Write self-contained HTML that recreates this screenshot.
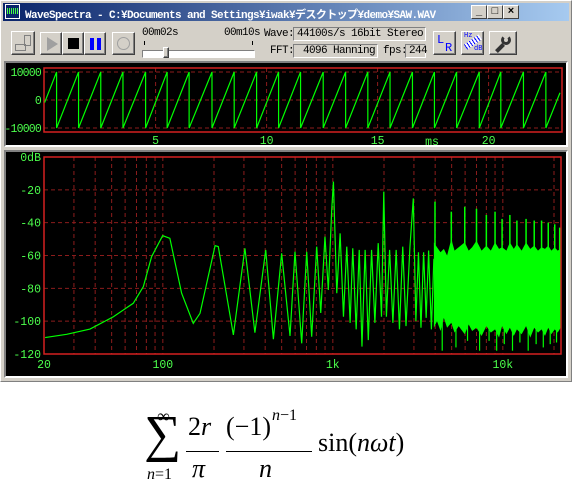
<!DOCTYPE html>
<html><head><meta charset="utf-8"><style>
*{margin:0;padding:0;box-sizing:border-box}
body{width:572px;height:495px;background:#fff;position:relative;overflow:hidden;font-family:"Liberation Mono","Noto Sans CJK JP",monospace}
.abs{position:absolute}
.win{left:0;top:0;width:572px;height:382px;background:#d4d0c8;border:1px solid #808080;border-top-color:#fff;border-left-color:#fff}
.title{left:3px;top:3px;width:566px;height:18px;background:linear-gradient(90deg,#0a246a,#a6caf0)}
.ttext{left:22px;top:3px;color:#fff;font-weight:bold;font-size:11px;white-space:nowrap;letter-spacing:-0.6px}
.cbtn{top:5px;width:16px;height:14px;background:#d4d0c8;border:1px solid;border-color:#fff #404040 #404040 #fff;font-size:11px;line-height:11px;text-align:center;color:#000;font-family:"Liberation Sans",sans-serif;font-weight:bold}
.btn{background:#d4d0c8;border:1px solid;border-color:#fff #404040 #404040 #fff;box-shadow:inset -1px -1px 0 #808080}
.sunk{background:#d4d0c8;border:1px solid;border-color:#808080 #fff #fff #808080;font-size:11px;line-height:12px;padding-left:3px;white-space:nowrap;letter-spacing:-0.6px}
.lbl{font-size:11px;white-space:nowrap;letter-spacing:-0.6px}
.panel{background:#000;border:2px solid;border-color:#808080 #fff #fff #808080}
.tx{font-family:"Liberation Serif",serif;position:absolute;color:#000;white-space:nowrap}
</style></head><body>
<div class="abs win"></div>
<div class="abs title">
 <div class="abs" style="left:2px;top:1px;width:15px;height:15px;background:#0a246a;border:1px solid #fff"><div style="margin:3px 1px;height:6px;background:repeating-linear-gradient(90deg,#4f4 0 1px,#0a246a 1px 2px)"></div></div>
 <div class="abs ttext">WaveSpectra - C:¥Documents and Settings¥iwak¥デスクトップ¥demo¥SAW.WAV</div>
</div>
<div class="abs cbtn" style="left:471px">_</div>
<div class="abs cbtn" style="left:487px">□</div>
<div class="abs cbtn" style="left:503px">×</div>

<div class="abs btn" style="left:11px;top:31px;width:24px;height:24px"><div class="abs" style="left:3px;top:12px;width:11px;height:7px;border:1px solid #808080"></div><div class="abs" style="left:12px;top:3px;width:7px;height:11px;border:1px solid #808080"></div></div>
<div class="abs btn" style="left:40px;top:32px;width:22px;height:23px"><div class="abs" style="left:6px;top:4px;width:0;height:0;border-left:11px solid #a0a0a0;border-top:7px solid transparent;border-bottom:7px solid transparent"></div></div>
<div class="abs btn" style="left:62px;top:32px;width:22px;height:23px"><div class="abs" style="left:5px;top:5px;width:11px;height:11px;background:#000"></div></div>
<div class="abs btn" style="left:84px;top:32px;width:22px;height:23px"><div class="abs" style="left:5px;top:5px;width:4px;height:12px;background:#00f"></div><div class="abs" style="left:12px;top:5px;width:4px;height:12px;background:#00f"></div></div>
<div class="abs btn" style="left:112px;top:32px;width:23px;height:23px"><div class="abs" style="left:4px;top:4px;width:13px;height:13px;border:1px solid #a0a0a0;border-radius:50%"></div></div>
<div class="abs lbl" style="left:142px;top:27px">00m02s</div>
<div class="abs lbl" style="left:224px;top:27px">00m10s</div>
<div class="abs" style="left:144px;top:41px;width:1px;height:4px;background:#000"></div>
<div class="abs" style="left:252px;top:41px;width:1px;height:4px;background:#000"></div>
<div class="abs sunk" style="left:142px;top:50px;width:113px;height:8px;background:#fff"></div>
<div class="abs btn" style="left:163px;top:47px;width:6px;height:11px"></div>
<div class="abs lbl" style="left:264px;top:28px">Wave:</div>
<div class="abs sunk" style="left:293px;top:27px;width:133px;height:14px">44100s/s 16bit Stereo</div>
<div class="abs lbl" style="left:270px;top:45px">FFT:</div>
<div class="abs sunk" style="left:293px;top:44px;width:85px;height:14px">&nbsp;4096 Hanning</div>
<div class="abs lbl" style="left:383px;top:45px">fps:</div>
<div class="abs sunk" style="left:405px;top:44px;width:21px;height:14px">244</div>
<div class="abs btn" style="left:433px;top:31px;width:23px;height:24px"><span class="abs" style="left:3px;top:1px;color:#00f;font-size:12px">L</span><span class="abs" style="left:11px;top:9px;color:#00f;font-size:12px">R</span></div>
<div class="abs btn" style="left:461px;top:31px;width:23px;height:24px"><div class="abs" style="left:2px;top:7px;width:18px;height:6px;background:repeating-linear-gradient(90deg,#00f 0 1px,#fff 1px 3px);transform:rotate(-35deg)"></div><span class="abs" style="left:2px;top:0;color:#00f;font-size:7px">Hz</span><span class="abs" style="left:12px;top:13px;color:#00f;font-size:7px">dB</span></div>
<div class="abs btn" style="left:489px;top:31px;width:28px;height:24px"><div class="abs" style="left:11px;top:3px;width:10px;height:10px;border:3px solid #333;border-radius:50%;border-top-color:transparent"></div><div class="abs" style="left:8px;top:11px;width:4px;height:10px;background:#333;transform:rotate(45deg)"></div></div>

<div class="abs panel" style="left:4px;top:61px;width:564px;height:86px"></div>
<div class="abs panel" style="left:4px;top:150px;width:564px;height:228px"></div>
<svg class="abs" style="left:0;top:0" width="572" height="382" id="charts" font-family="Liberation Mono, monospace" font-size="11.5"></svg>

<div>
 <div class="tx" style="left:157px;top:406px;font-size:18px">∞</div>
 <div class="tx" style="left:144px;top:405px;font-size:52px;line-height:60px">∑</div>
 <div class="tx" style="left:147px;top:466px;font-size:16px"><i>n</i>=1</div>
 <div class="tx" style="left:188px;top:412px;font-size:26px">2<i>r</i></div>
 <div class="abs" style="left:186px;top:451px;width:33px;height:1px;background:#000"></div>
 <div class="tx" style="left:192px;top:454px;font-size:26px"><i>π</i></div>
 <div class="tx" style="left:226px;top:412px;font-size:26px">(−1)</div>
 <div class="tx" style="left:272px;top:407px;font-size:16px"><i>n</i>−1</div>
 <div class="abs" style="left:226px;top:451px;width:86px;height:1px;background:#000"></div>
 <div class="tx" style="left:259px;top:454px;font-size:26px"><i>n</i></div>
 <div class="tx" style="left:318px;top:428px;font-size:26px">sin(<i>n</i><i>ωt</i>)</div>
</div>

<script>
// ---- waveform data (ms) ----
const waveDrops=[0.54,1.53,2.53,3.53,4.55,5.52,6.51,7.54,8.54,9.55,10.54,11.53,12.55,13.56,14.56,15.56,16.57,17.56,18.56,19.58,20.55,21.57,22.58];
const waveAmp=10000;
const waveXTicks=[5,10,15,20];
const waveYTicks=[10000,0,-10000];
// ---- spectrum data ----
const specF=[20.3,27.2,37.3,51.2,67,76.8,85.9,99.8,110,129,151,165.5,203,212,260,304,348,403,447,500,560,599,656,702,751,804,849,899,941,985,1008,1055,1104,1155,1208,1264,1310,1372,1430,1484,1549,1617,1690,1768,1849,1933,1994,2066,2158,2256,2358,2466,2578,2694,2843,2974,3080,3190,3300,3420,3540,3660,3800,3930];
const specDb=[-110,-108,-104.8,-97.3,-89.1,-79,-60.7,-47.9,-49.5,-83,-101.3,-95.2,-54,-54.6,-108.4,-55.6,-107,-56.6,-111,-58.7,-109,-57.7,-113.5,-57.7,-109.5,-54.6,-95,-48.5,-81,-32.3,-15,-83,-46.5,-97.3,-54.6,-101,-55.6,-105,-56.6,-115.5,-56.6,-111.5,-56.6,-101,-52.5,-97.3,-21.1,-97.3,-56.6,-101,-56.6,-105,-54.6,-103,-54.6,-25.2,-100,-58,-104,-58,-98,-57,-105,-62];
const denseF=[3930,4100,4300,4500,4700,4976,5200,5500,5970,6300,6600,7000,7500,8000,8500,9000,9500,9900,10500,11000,11600,12100,12900,13700,14500,15300,16100,16900,17700,18500,19300,20200,21000,21900];
const denseHi=[-52,-55,-58,-56,-60,-50,-57,-55,-52,-57,-55,-51,-57,-54,-57,-52,-56,-55,-57,-52,-56,-53,-57,-52,-56,-54,-57,-55,-56,-54,-57,-55,-57,-56];
const denseLo=[-104,-100,-106,-98,-104,-101,-107,-103,-108,-102,-106,-104,-109,-103,-107,-105,-110,-103,-108,-104,-109,-105,-108,-103,-110,-104,-107,-105,-109,-104,-108,-105,-107,-104];
const peakF=[3990,4976,5970,7000,8000,9000,9900,11000,12100,13700,15300,16900,18500,20200,21600];
const peakDb=[-27.2,-33.3,-30.3,-31.5,-35.3,-33.3,-37.7,-35.3,-38.7,-37.7,-38.7,-38.7,-40,-41,-43];
const dipF=[4400,5300,6200,7300,8300,9200,10200,11400,12600,14100,15700,17300,19000,20700];
const dipDb=[-118,-116,-112,-118,-112,-118,-114,-118,-113,-118,-114,-116,-114,-113];
const specYTicks=[0,-20,-40,-60,-80,-100,-120];
const specXLabels=[20,100,1000,10000];
const specXLabelText=["20","100","1k","10k"];

const NS="http://www.w3.org/2000/svg";
const svg=document.getElementById('charts');
function mk(tag,attrs,name,parent){const e=document.createElementNS(NS,tag);for(const k in attrs)e.setAttribute(k,attrs[k]);


(parent||svg).appendChild(e);return e;}
const GRID="#8c1c1c",FRAME="#d42020",GREEN="#00ff00",LBL="#4cff4c";

// waveform axes
const wL=44,wR=562,wT=68,wB=132;
const wx=t=>44.6+t*22.2;
const wy=v=>100-v*(28/10000);
waveYTicks.forEach(v=>{
  mk('line',{x1:wL,x2:wR,y1:wy(v),y2:wy(v),stroke:GRID,'stroke-dasharray':'4,3'},'wave-gridline');
  const t=mk('text',{x:41,y:wy(v)+4,'text-anchor':'end',fill:LBL,'letter-spacing':'-0.8'},'wave-y-tick-label');t.textContent=(v<0?'-':'')+Math.abs(v);
});
waveXTicks.forEach(v=>{
  mk('line',{x1:wx(v),x2:wx(v),y1:wT,y2:wB,stroke:GRID,'stroke-dasharray':'4,3'},'wave-x-gridline');
  const t=mk('text',{x:wx(v),y:144,'text-anchor':'middle',fill:LBL},'wave-x-tick-label');t.textContent=v;
});
{const t=mk('text',{x:432,y:145,'text-anchor':'middle',fill:LBL},'wave-x-unit');t.textContent='ms';}
mk('rect',{x:wL,y:wT,width:wR-wL,height:wB-wT,fill:'none',stroke:FRAME,'stroke-width':1.5},'wave-frame');
{
  const tEnd=(wR-2-44.6)/22.2;
  const period=waveDrops[1]-waveDrops[0];
  let d=`M${wx(0)},${wy(waveAmp*(1-2*(waveDrops[0]-0)/period))}`;
  let prev=0;
  waveDrops.forEach(td=>{ if(td>tEnd)return;
    d+=` L${wx(td)},${wy(waveAmp)} L${wx(td)},${wy(-waveAmp)}`; prev=td;});
  const p=waveDrops[waveDrops.length-1]-waveDrops[waveDrops.length-2];
  d+=` L${wx(tEnd)},${wy(-waveAmp+2*waveAmp*(tEnd-prev)/p)}`;
  mk('path',{d:d,fill:'none',stroke:GREEN,'stroke-width':1.2},'waveform-line');
}

// spectrum axes
const sL=44,sR=561,sT=157,sB=354;
const sx=f=>44+Math.log10(f/20)*170;
const sy=db=>157-db*(197/120);
specYTicks.forEach(v=>{
  if(v<0&&v>-120) mk('line',{x1:sL,x2:sR,y1:sy(v),y2:sy(v),stroke:GRID,'stroke-dasharray':'4,3'},'spectrum-gridline');
  const t=mk('text',{x:41,y:sy(v)+4,'text-anchor':'end',fill:LBL},'spectrum-y-tick-label');t.textContent=(v===0?'0dB':v);
});
[30,40,50,60,70,80,90,100,200,300,400,500,600,700,800,900,1000,2000,3000,4000,5000,6000,7000,8000,9000,10000,20000].forEach(f=>{
  mk('line',{x1:sx(f),x2:sx(f),y1:sT,y2:sB,stroke:GRID,'stroke-dasharray':'4,3'},'spectrum-x-gridline');
});
specXLabels.forEach((f,i)=>{const t=mk('text',{x:sx(f),y:368,'text-anchor':'middle',fill:LBL},'spectrum-x-tick-label');t.textContent=specXLabelText[i];});
{
  let pts=denseF.map((f,i)=>`${sx(f)},${sy(denseHi[i])}`);
  for(let i=denseF.length-1;i>=0;i--)pts.push(`${sx(denseF[i])},${sy(denseLo[i])}`);
  mk('polygon',{points:pts.join(' '),fill:GREEN},'spectrum-dense-band');
  peakF.forEach((f,i)=>mk('line',{x1:sx(f),x2:sx(f),y1:sy(peakDb[i]),y2:sy(-60),stroke:GREEN,'stroke-width':1.5},'spectrum-harmonic-peak'));
  dipF.forEach((f,i)=>mk('line',{x1:sx(f),x2:sx(f),y1:sy(dipDb[i]),y2:sy(-100),stroke:GREEN,'stroke-width':1.2},'spectrum-dip'));
  mk('polyline',{points:specF.map((f,i)=>`${sx(f)},${sy(specDb[i])}`).join(' '),fill:'none',stroke:GREEN,'stroke-width':1.2},'spectrum-line');
}
mk('rect',{x:sL,y:sT,width:sR-sL,height:sB-sT,fill:'none',stroke:FRAME,'stroke-width':1.5},'spectrum-frame');
</script>
</body></html>
